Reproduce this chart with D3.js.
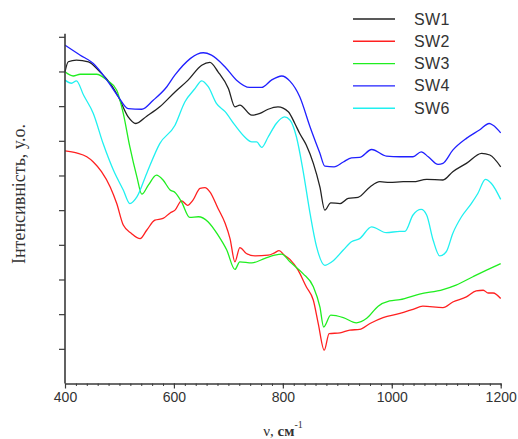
<!DOCTYPE html>
<html>
<head>
<meta charset="utf-8">
<script src="https://cdn.jsdelivr.net/npm/d3@7"></script>
<style>
  html, body { margin: 0; padding: 0; background: #fff; }
  svg { display: block; }
</style>
</head>
<body>
<svg id="chart" width="518" height="439"></svg>
<script>
// ---- Data (wavenumber, intensity in arbitrary units) ----
const seriesNames = ["SW1", "SW2", "SW3", "SW4", "SW6"];
const seriesColors = ["#222222", "#ff2020", "#20ee20", "#2020ff", "#20f0f0"];

const sw1 = [[400,8.99],[406,9.28],[421,9.33],[443,9.28],[464,8.99],[483,8.66],[498,8.27],[516,7.69],[530,7.50],[550,7.71],[574,7.98],[602,8.41],[626,8.75],[651,9.18],[666,9.26],[681,8.99],[700,8.51],[712,7.98],[721,8.03],[743,7.74],[758,7.79],[773,7.91],[791,7.98],[810,7.84],[822,7.50],[831,7.21],[843,6.88],[856,6.35],[868,5.67],[877,5.00],[888,5.21],[905,5.19],[920,5.34],[938,5.37],[960,5.67],[978,5.82],[996,5.80],[1021,5.82],[1039,5.82],[1064,5.89],[1094,5.87],[1112,6.11],[1137,6.35],[1165,6.64],[1180,6.59],[1200,6.25]];

const sw2 = [[400,6.71],[421,6.65],[440,6.54],[452,6.39],[467,6.11],[483,5.67],[495,5.19],[507,4.57],[522,4.33],[538,4.18],[550,4.42],[565,4.71],[580,4.76],[593,4.92],[602,5.00],[614,5.27],[625,5.14],[635,5.29],[648,5.63],[657,5.65],[666,5.53],[681,5.05],[694,4.62],[703,4.18],[712,3.51],[721,3.92],[733,3.75],[749,3.68],[773,3.70],[785,3.77],[793,3.83],[803,3.70],[813,3.58],[828,3.27],[843,2.79],[856,2.40],[865,1.73],[876,0.96],[885,1.44],[905,1.46],[923,1.54],[941,1.56],[960,1.73],[984,1.90],[1015,2.02],[1039,2.14],[1057,2.23],[1094,2.19],[1112,2.35],[1137,2.50],[1155,2.67],[1168,2.69],[1177,2.61],[1186,2.61],[1200,2.45]];

const sw3 = [[400,8.99],[415,8.87],[428,8.92],[458,8.92],[477,8.75],[495,8.46],[507,7.79],[519,6.83],[532,5.96],[541,5.46],[553,5.72],[568,6.01],[580,5.87],[593,5.58],[602,5.51],[614,5.24],[629,4.79],[645,4.81],[663,4.66],[681,4.28],[697,3.85],[712,3.29],[721,3.51],[743,3.48],[767,3.61],[785,3.70],[798,3.73],[813,3.51],[837,3.17],[856,2.79],[868,2.21],[875,1.63],[888,1.97],[911,1.90],[935,1.75],[954,1.88],[975,2.23],[996,2.38],[1015,2.42],[1051,2.58],[1094,2.71],[1118,2.84],[1149,3.08],[1174,3.27],[1200,3.46]];

const sw4 = [[400,9.76],[428,9.47],[452,9.23],[477,8.75],[498,8.27],[516,7.93],[541,7.91],[562,8.17],[587,8.56],[602,8.90],[654,9.54],[669,9.47],[694,9.13],[715,8.75],[739,8.54],[761,8.54],[779,8.75],[798,8.87],[813,8.72],[831,8.27],[850,7.40],[868,6.64],[877,6.27],[894,6.25],[911,6.39],[926,6.51],[941,6.52],[963,6.75],[990,6.56],[1015,6.54],[1039,6.54],[1054,6.68],[1067,6.54],[1085,6.32],[1094,6.35],[1112,6.73],[1137,7.07],[1161,7.31],[1179,7.50],[1186,7.45],[1200,7.23]];

const sw6 = [[400,8.75],[412,8.66],[421,8.73],[434,8.32],[452,7.79],[470,6.92],[489,6.15],[507,5.58],[519,5.19],[532,5.38],[550,6.06],[574,6.92],[602,7.45],[620,8.12],[639,8.51],[651,8.73],[663,8.56],[678,8.08],[694,7.84],[712,7.45],[730,7.11],[743,6.97],[752,6.97],[761,6.81],[773,7.11],[788,7.50],[803,7.69],[813,7.60],[825,7.11],[837,6.15],[850,4.90],[862,3.94],[877,3.41],[890,3.51],[911,3.85],[926,4.09],[941,4.18],[963,4.52],[990,4.35],[1015,4.39],[1024,4.39],[1039,4.86],[1054,5.02],[1064,4.86],[1076,4.13],[1088,3.68],[1100,3.80],[1112,4.33],[1128,4.81],[1146,5.19],[1158,5.48],[1172,5.89],[1183,5.77],[1200,5.31]];

const seriesData = [sw1, sw2, sw3, sw4, sw6];

const xTickLabels = [400, 600, 800, 1000, 1200];
const xMinorTicks = d3.range(400, 1201, 20);
const yTicks = d3.range(1, 11, 1);

// ---- Layout ----
const svg = d3.select("#chart");
const x = d3.scaleLinear().domain([400, 1200]).range([65, 500.7]);
const y = d3.scaleLinear().domain([0, 10]).range([383.5, 36.8]);
const axisColor = "#3a3a3a";

// Curves
const line = d3.line().x(d => x(d[0])).y(d => y(d[1])).curve(d3.curveMonotoneX);
seriesData.forEach((s, i) => {
  svg.append("path")
    .attr("d", line(s))
    .attr("fill", "none")
    .attr("stroke", seriesColors[i])
    .attr("stroke-width", 1.3)
    .attr("stroke-linejoin", "round");
});

// X axis (minor ticks)
const gxMinor = svg.append("g").attr("transform", `translate(0,${y(0)})`)
  .call(d3.axisBottom(x).tickValues(xMinorTicks).tickSize(2.5).tickFormat("").tickSizeOuter(0));
gxMinor.select(".domain").remove();
gxMinor.selectAll("line").attr("stroke", axisColor).attr("stroke-width", 1);

// X axis (major ticks + labels)
const gx = svg.append("g").attr("transform", `translate(0,${y(0)})`)
  .call(d3.axisBottom(x).tickValues(xTickLabels).tickFormat(d3.format("d"))
    .tickSize(5).tickPadding(4).tickSizeOuter(0));
gx.select(".domain").attr("stroke", axisColor).attr("stroke-width", 1.6);
gx.selectAll("line").attr("stroke", axisColor).attr("stroke-width", 1.2);
gx.selectAll("text").attr("font-family", "Arial, 'Liberation Sans', sans-serif")
  .attr("font-size", 14).attr("fill", "#333");

// Y axis
const gy = svg.append("g").attr("transform", `translate(${x(400)},0)`)
  .call(d3.axisLeft(y).tickValues(yTicks).tickSize(6).tickFormat("").tickSizeOuter(0));
gy.select(".domain").remove();
gy.selectAll("line").attr("stroke", axisColor).attr("stroke-width", 1.2);
svg.append("line")
  .attr("x1", x(400)).attr("x2", x(400))
  .attr("y1", y(0)).attr("y2", y(10) - 3)
  .attr("stroke", axisColor).attr("stroke-width", 1.6);

// Axis titles
svg.append("text")
  .attr("transform", `translate(25,194) rotate(-90)`)
  .attr("text-anchor", "middle")
  .attr("font-family", "'Liberation Serif', 'Times New Roman', serif")
  .attr("font-size", 18)
  .attr("fill", "#333")
  .text("Інтенсивність, у.о.");

const xt = svg.append("text")
  .attr("x", 283).attr("y", 436)
  .attr("text-anchor", "middle")
  .attr("font-family", "'Liberation Serif', 'Times New Roman', serif")
  .attr("font-size", 15)
  .attr("fill", "#333");
xt.append("tspan").text("ν, ");
xt.append("tspan").attr("font-weight", "bold").text("см");
xt.append("tspan").attr("dy", -8).attr("font-size", 10).text("-1");

// Legend
const legend = svg.append("g");
seriesNames.forEach((name, i) => {
  const ly = 19 + i * 22.3;
  legend.append("line")
    .attr("x1", 353).attr("x2", 395)
    .attr("y1", ly).attr("y2", ly)
    .attr("stroke", seriesColors[i]).attr("stroke-width", 1.4);
  legend.append("text")
    .attr("x", 414).attr("y", ly + 5.5)
    .attr("font-family", "Arial, 'Liberation Sans', sans-serif")
    .attr("font-size", 16)
    .attr("letter-spacing", 0.4)
    .attr("fill", "#333")
    .text(name);
});
</script>
</body>
</html>
